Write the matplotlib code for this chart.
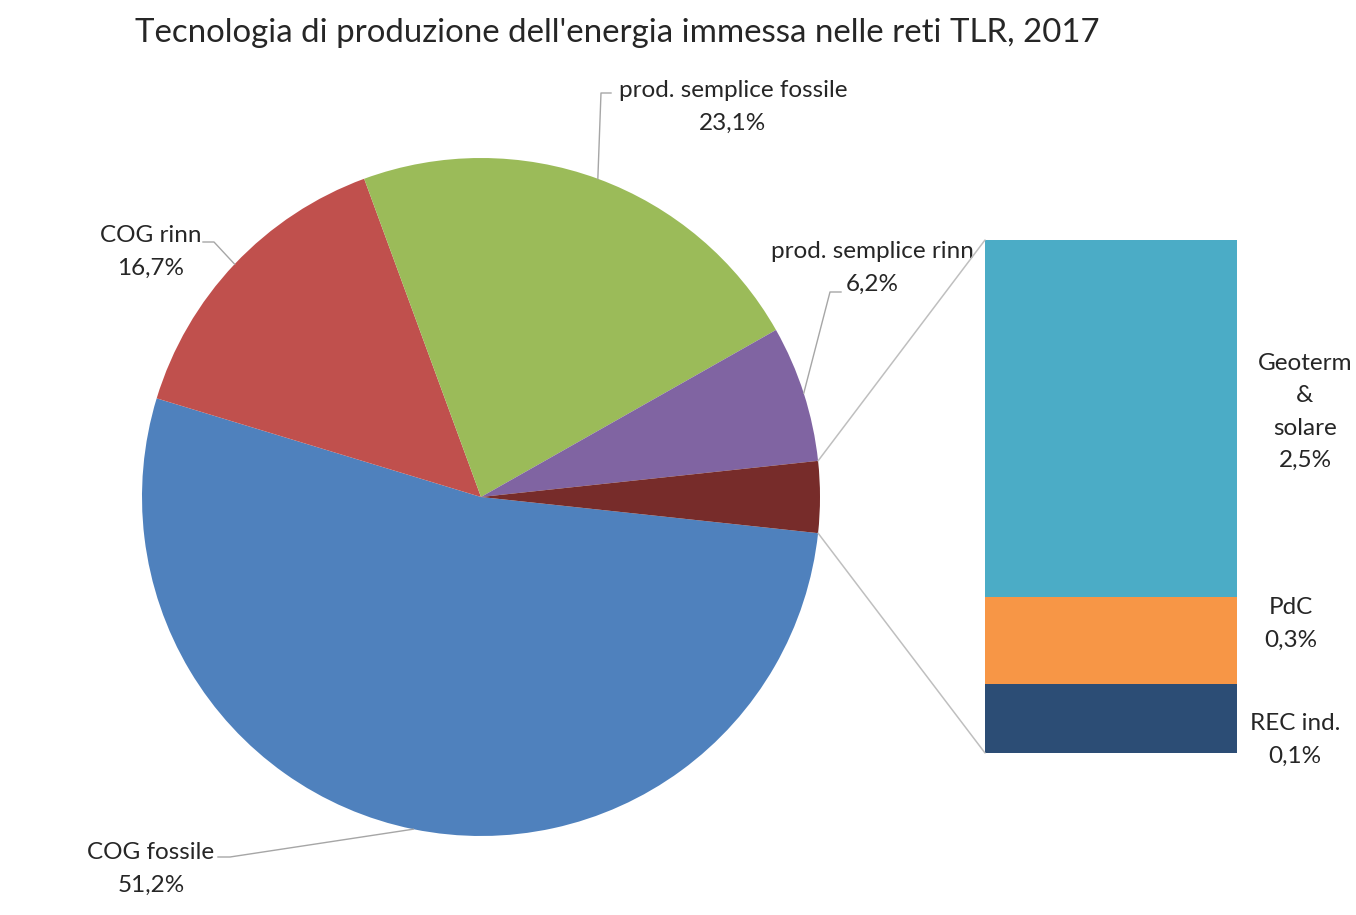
import matplotlib
matplotlib.use("Agg")
import matplotlib.pyplot as plt
import numpy as np
from matplotlib.patches import ConnectionPatch

plt.rcParams['font.family'] = ['Lato', 'DejaVu Sans']

# ---------------- data ----------------
title = "Tecnologia di produzione dell'energia immessa nelle reti TLR, 2017"
pie_labels = ["COG fossile", "COG rinn", "prod. semplice fossile", "prod. semplice rinn", "Altro"]
pie_pct_text = ["51,2%", "16,7%", "23,1%", "6,2%", "2,9%"]
# slice sizes as drawn in the picture
pie_shares = [53.0, 14.7, 22.4, 6.5, 3.4]
pie_colors = ["#4F81BD", "#C0504D", "#9BBB59", "#8064A2", "#772C2A"]

bar_labels = ["REC ind.", "PdC", "Geoterm\n&\nsolare"]
bar_pct_text = ["0,1%", "0,3%", "2,5%"]
# segment heights as drawn in the picture
bar_heights = [0.39, 0.49, 2.02]
bar_colors = ["#2C4D75", "#F79646", "#4BACC6"]

# ---------------- figure ----------------
W, H = 1356, 915
fig = plt.figure(figsize=(W / 100, H / 100), dpi=100)
fig.patch.set_facecolor("white")

def fbox(x0, y0_top, w, h):
    """pixel box (top-left origin) -> figure fraction [l, b, w, h]"""
    return [x0 / W, (H - y0_top - h) / H, w / W, h / H]

R = 339
cx, cy = 481, 497
ax_pie = fig.add_axes(fbox(cx - R, cy - R, 2 * R, 2 * R))
total = sum(pie_shares)
start = -pie_shares[-1] / total * 360 / 2
wedges, _ = ax_pie.pie(pie_shares, colors=pie_colors, startangle=start,
                       counterclock=False, radius=1,
                       wedgeprops=dict(linewidth=0))
ax_pie.set_xlim(-1, 1)
ax_pie.set_ylim(-1, 1)
ax_pie.set_aspect('equal')
ax_pie.axis('off')

ax_bar = fig.add_axes(fbox(985, 240, 252, 513))
bottom = 0
for h, c in zip(bar_heights, bar_colors):
    ax_bar.bar(0, h, bottom=bottom, width=1, color=c, linewidth=0)
    bottom += h
ax_bar.set_xlim(-0.5, 0.5)
ax_bar.set_ylim(0, sum(bar_heights))
ax_bar.axis('off')

# overlay in pixel coordinates for text and leader lines
ax_ov = fig.add_axes([0, 0, 1, 1])
ax_ov.set_xlim(0, W)
ax_ov.set_ylim(H, 0)
ax_ov.axis('off')
ax_ov.patch.set_alpha(0)

def pie_to_ov(angle_deg, r=1.0):
    a = np.deg2rad(angle_deg)
    disp = ax_pie.transData.transform((r * np.cos(a), r * np.sin(a)))
    return ax_ov.transData.inverted().transform(disp)

# connectors from "Altro" wedge to the bar
w_alt = wedges[-1]
for ang, yb in [(w_alt.theta2, 1), (w_alt.theta1, 0)]:
    a = np.deg2rad(ang)
    con = ConnectionPatch(xyA=(np.cos(a), np.sin(a)), coordsA=ax_pie.transData,
                          xyB=(0, yb), coordsB=ax_bar.transAxes,
                          color="#BFBFBF", linewidth=1.1)
    fig.add_artist(con)

# pie labels with leader lines
label_pos = [(151, 869), (151, 252), (733, 107), (872, 268)]
leader_knee = [[(230, 857), (218, 857)], [(214, 242), (203, 242)],
               [(601, 93), (611, 93)], [(830, 292), (841, 292)]]
fs = 17.5
ls = 1.65
for i in range(4):
    w = wedges[i]
    mid = (w.theta1 + w.theta2) / 2
    p = pie_to_ov(mid)
    pts = [tuple(p)] + leader_knee[i]
    xs, ys = zip(*pts)
    ax_ov.plot(xs, ys, color="#A6A6A6", linewidth=1.0)
    ax_ov.text(label_pos[i][0], label_pos[i][1], pie_labels[i] + "\n" + pie_pct_text[i],
               ha="center", va="center", fontsize=fs, color="#262626", linespacing=ls)

# bar labels
bar_label_pos = [(1295, 740), (1291, 624), (1305, 412)]
for i in range(3):
    ax_ov.text(bar_label_pos[i][0], bar_label_pos[i][1], bar_labels[i] + "\n" + bar_pct_text[i],
               ha="center", va="center", fontsize=fs, color="#262626", linespacing=ls)

ax_ov.text(617, 33, title, ha="center", va="center", fontsize=23.8, color="#262626")

fig.savefig("out.png", dpi=100, facecolor="white")
